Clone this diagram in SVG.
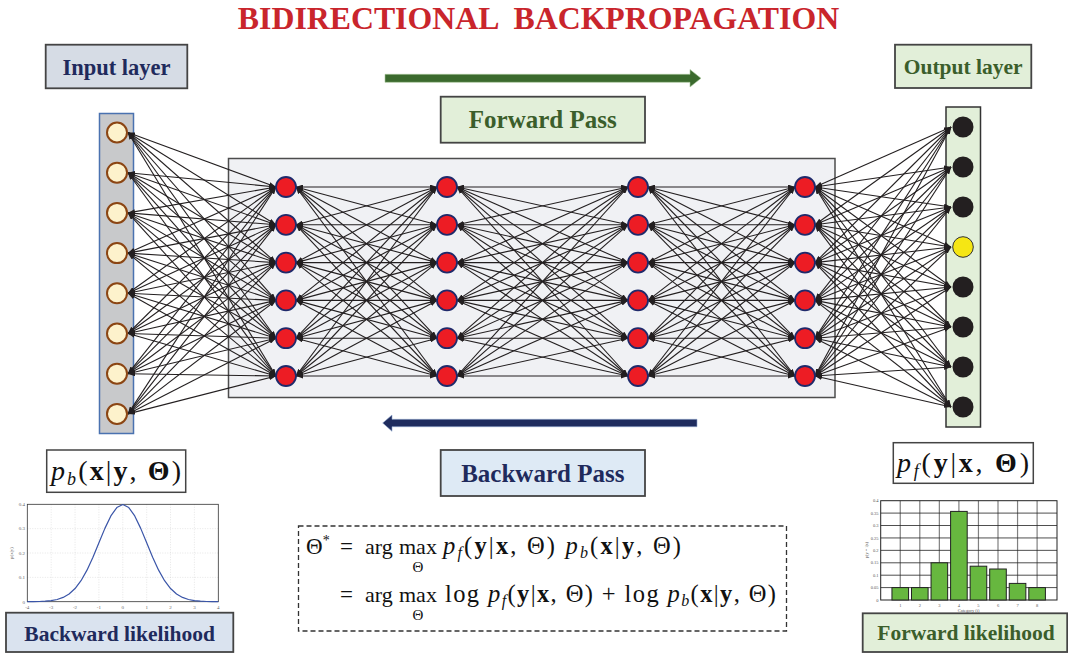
<svg xmlns="http://www.w3.org/2000/svg" width="1068" height="654" viewBox="0 0 1068 654">
<style>
text{font-family:"Liberation Serif","Times New Roman",serif}
.lbl{font-weight:bold;text-anchor:middle}
.navy{fill:#1f2a5c}
.green{fill:#3b5e2b}
.box{stroke:#444;stroke-width:1.8}
.in{fill:#fdf2cc;stroke:#8b4513;stroke-width:2}
.hid{fill:#ed1c24;stroke:#1f2a6b;stroke-width:1.8}
.out{fill:#231f20}
.tick{font-size:5px;fill:#666}
.htick{font-size:4.5px;fill:#555}
.m{font-size:22px;fill:#111}
.b{font-weight:bold}
.i{font-style:italic}
</style>
<defs>
<marker id="ah" markerUnits="userSpaceOnUse" markerWidth="7" markerHeight="5" refX="7" refY="2.5" orient="auto-start-reverse"><path d="M0,0 L7,2.5 L0,5 z" fill="#231f20"/></marker>
</defs>
<rect width="1068" height="654" fill="#fff"/>
<text x="538.5" y="29" class="lbl" font-size="31.8" fill="#c9252c" style="white-space:pre">BIDIRECTIONAL  BACKPROPAGATION</text>

<g id="input-label"><rect x="45.7" y="44.7" width="141.6" height="43.6" fill="#d6dce5" class="box"/><text x="116.5" y="75" class="lbl navy" font-size="22.5">Input layer</text></g>
<g id="output-label"><rect x="895" y="44.7" width="136.3" height="43.3" fill="#e2efd9" class="box"/><text x="963.2" y="74" class="lbl green" font-size="21.5">Output layer</text></g>

<g id="forward-pass">
<polygon points="385,74.3 690,74.3 690,69.5 701,78.3 690,87 690,82.3 385,82.3" fill="#3b6a2e" stroke="#a9c79a" stroke-width="0.6"/>
<rect x="440.7" y="96.7" width="204.3" height="46" fill="#e2efd9" class="box"/><text x="542.8" y="128.3" class="lbl green" font-size="25">Forward Pass</text>
</g>
<g id="backward-pass">
<polygon points="697,419.3 392,419.3 392,415 382.7,423 392,431.3 392,426.7 697,426.7" fill="#1f2c5e" stroke="#8fa6cc" stroke-width="0.6"/>
<rect x="440.7" y="450" width="204.3" height="46" fill="#deeaf5" class="box"/><text x="542.8" y="481.7" class="lbl navy" font-size="25">Backward Pass</text>
</g>

<g id="hidden-box"><rect x="228.5" y="158.5" width="606.5" height="239" fill="#f0f1f4" stroke="#4d4d4d" stroke-width="1.5"/></g>
<g id="input-column"><rect x="99.5" y="113.5" width="34" height="320" fill="#c8c9cb" stroke="#4a72b0" stroke-width="1.5"/></g>
<g id="output-column"><rect x="946" y="107" width="34.5" height="320" fill="#e2efd9" stroke="#333" stroke-width="1.5"/></g>

<g id="connectors" fill="none" stroke="#231f20" stroke-width="1.1" marker-start="url(#ah)" marker-end="url(#ah)">
<path d="M128 132.5L276 187"/><path d="M128 132.5L276 224.8"/><path d="M128 132.5L276 262.6"/><path d="M128 132.5L276 300.4"/><path d="M128 132.5L276 338.2"/><path d="M128 132.5L276 376"/>
<path d="M128 172.7L276 187"/><path d="M128 172.7L276 224.8"/><path d="M128 172.7L276 262.6"/><path d="M128 172.7L276 300.4"/><path d="M128 172.7L276 338.2"/><path d="M128 172.7L276 376"/>
<path d="M128 212.9L276 187"/><path d="M128 212.9L276 224.8"/><path d="M128 212.9L276 262.6"/><path d="M128 212.9L276 300.4"/><path d="M128 212.9L276 338.2"/><path d="M128 212.9L276 376"/>
<path d="M128 253.1L276 187"/><path d="M128 253.1L276 224.8"/><path d="M128 253.1L276 262.6"/><path d="M128 253.1L276 300.4"/><path d="M128 253.1L276 338.2"/><path d="M128 253.1L276 376"/>
<path d="M128 293.3L276 187"/><path d="M128 293.3L276 224.8"/><path d="M128 293.3L276 262.6"/><path d="M128 293.3L276 300.4"/><path d="M128 293.3L276 338.2"/><path d="M128 293.3L276 376"/>
<path d="M128 333.5L276 187"/><path d="M128 333.5L276 224.8"/><path d="M128 333.5L276 262.6"/><path d="M128 333.5L276 300.4"/><path d="M128 333.5L276 338.2"/><path d="M128 333.5L276 376"/>
<path d="M128 373.7L276 187"/><path d="M128 373.7L276 224.8"/><path d="M128 373.7L276 262.6"/><path d="M128 373.7L276 300.4"/><path d="M128 373.7L276 338.2"/><path d="M128 373.7L276 376"/>
<path d="M128 413.9L276 187"/><path d="M128 413.9L276 224.8"/><path d="M128 413.9L276 262.6"/><path d="M128 413.9L276 300.4"/><path d="M128 413.9L276 338.2"/><path d="M128 413.9L276 376"/>

<path d="M296 187L437 187"/><path d="M296 187L437 224.8"/><path d="M296 187L437 262.6"/><path d="M296 187L437 300.4"/><path d="M296 187L437 338.2"/><path d="M296 187L437 376"/>
<path d="M296 224.8L437 187"/><path d="M296 224.8L437 224.8"/><path d="M296 224.8L437 262.6"/><path d="M296 224.8L437 300.4"/><path d="M296 224.8L437 338.2"/><path d="M296 224.8L437 376"/>
<path d="M296 262.6L437 187"/><path d="M296 262.6L437 224.8"/><path d="M296 262.6L437 262.6"/><path d="M296 262.6L437 300.4"/><path d="M296 262.6L437 338.2"/><path d="M296 262.6L437 376"/>
<path d="M296 300.4L437 187"/><path d="M296 300.4L437 224.8"/><path d="M296 300.4L437 262.6"/><path d="M296 300.4L437 300.4"/><path d="M296 300.4L437 338.2"/><path d="M296 300.4L437 376"/>
<path d="M296 338.2L437 187"/><path d="M296 338.2L437 224.8"/><path d="M296 338.2L437 262.6"/><path d="M296 338.2L437 300.4"/><path d="M296 338.2L437 338.2"/><path d="M296 338.2L437 376"/>
<path d="M296 376L437 187"/><path d="M296 376L437 224.8"/><path d="M296 376L437 262.6"/><path d="M296 376L437 300.4"/><path d="M296 376L437 338.2"/><path d="M296 376L437 376"/>

<path d="M457 187L628 187"/><path d="M457 187L628 224.8"/><path d="M457 187L628 262.6"/><path d="M457 187L628 300.4"/><path d="M457 187L628 338.2"/><path d="M457 187L628 376"/>
<path d="M457 224.8L628 187"/><path d="M457 224.8L628 224.8"/><path d="M457 224.8L628 262.6"/><path d="M457 224.8L628 300.4"/><path d="M457 224.8L628 338.2"/><path d="M457 224.8L628 376"/>
<path d="M457 262.6L628 187"/><path d="M457 262.6L628 224.8"/><path d="M457 262.6L628 262.6"/><path d="M457 262.6L628 300.4"/><path d="M457 262.6L628 338.2"/><path d="M457 262.6L628 376"/>
<path d="M457 300.4L628 187"/><path d="M457 300.4L628 224.8"/><path d="M457 300.4L628 262.6"/><path d="M457 300.4L628 300.4"/><path d="M457 300.4L628 338.2"/><path d="M457 300.4L628 376"/>
<path d="M457 338.2L628 187"/><path d="M457 338.2L628 224.8"/><path d="M457 338.2L628 262.6"/><path d="M457 338.2L628 300.4"/><path d="M457 338.2L628 338.2"/><path d="M457 338.2L628 376"/>
<path d="M457 376L628 187"/><path d="M457 376L628 224.8"/><path d="M457 376L628 262.6"/><path d="M457 376L628 300.4"/><path d="M457 376L628 338.2"/><path d="M457 376L628 376"/>

<path d="M648 187L795 187"/><path d="M648 187L795 224.8"/><path d="M648 187L795 262.6"/><path d="M648 187L795 300.4"/><path d="M648 187L795 338.2"/><path d="M648 187L795 376"/>
<path d="M648 224.8L795 187"/><path d="M648 224.8L795 224.8"/><path d="M648 224.8L795 262.6"/><path d="M648 224.8L795 300.4"/><path d="M648 224.8L795 338.2"/><path d="M648 224.8L795 376"/>
<path d="M648 262.6L795 187"/><path d="M648 262.6L795 224.8"/><path d="M648 262.6L795 262.6"/><path d="M648 262.6L795 300.4"/><path d="M648 262.6L795 338.2"/><path d="M648 262.6L795 376"/>
<path d="M648 300.4L795 187"/><path d="M648 300.4L795 224.8"/><path d="M648 300.4L795 262.6"/><path d="M648 300.4L795 300.4"/><path d="M648 300.4L795 338.2"/><path d="M648 300.4L795 376"/>
<path d="M648 338.2L795 187"/><path d="M648 338.2L795 224.8"/><path d="M648 338.2L795 262.6"/><path d="M648 338.2L795 300.4"/><path d="M648 338.2L795 338.2"/><path d="M648 338.2L795 376"/>
<path d="M648 376L795 187"/><path d="M648 376L795 224.8"/><path d="M648 376L795 262.6"/><path d="M648 376L795 300.4"/><path d="M648 376L795 338.2"/><path d="M648 376L795 376"/>

<path d="M815 187L951 127"/><path d="M815 187L951 167"/><path d="M815 187L951 207"/><path d="M815 187L951 247"/><path d="M815 187L951 287"/><path d="M815 187L951 327"/><path d="M815 187L951 367"/><path d="M815 187L951 407"/>
<path d="M815 224.8L951 127"/><path d="M815 224.8L951 167"/><path d="M815 224.8L951 207"/><path d="M815 224.8L951 247"/><path d="M815 224.8L951 287"/><path d="M815 224.8L951 327"/><path d="M815 224.8L951 367"/><path d="M815 224.8L951 407"/>
<path d="M815 262.6L951 127"/><path d="M815 262.6L951 167"/><path d="M815 262.6L951 207"/><path d="M815 262.6L951 247"/><path d="M815 262.6L951 287"/><path d="M815 262.6L951 327"/><path d="M815 262.6L951 367"/><path d="M815 262.6L951 407"/>
<path d="M815 300.4L951 127"/><path d="M815 300.4L951 167"/><path d="M815 300.4L951 207"/><path d="M815 300.4L951 247"/><path d="M815 300.4L951 287"/><path d="M815 300.4L951 327"/><path d="M815 300.4L951 367"/><path d="M815 300.4L951 407"/>
<path d="M815 338.2L951 127"/><path d="M815 338.2L951 167"/><path d="M815 338.2L951 207"/><path d="M815 338.2L951 247"/><path d="M815 338.2L951 287"/><path d="M815 338.2L951 327"/><path d="M815 338.2L951 367"/><path d="M815 338.2L951 407"/>
<path d="M815 376L951 127"/><path d="M815 376L951 167"/><path d="M815 376L951 207"/><path d="M815 376L951 247"/><path d="M815 376L951 287"/><path d="M815 376L951 327"/><path d="M815 376L951 367"/><path d="M815 376L951 407"/>
</g>

<g id="input-nodes">
<circle class="in" cx="117" cy="132.5" r="10"/><circle class="in" cx="117" cy="172.7" r="10"/><circle class="in" cx="117" cy="212.9" r="10"/><circle class="in" cx="117" cy="253.1" r="10"/>
<circle class="in" cx="117" cy="293.3" r="10"/><circle class="in" cx="117" cy="333.5" r="10"/><circle class="in" cx="117" cy="373.7" r="10"/><circle class="in" cx="117" cy="413.9" r="10"/>
</g>
<g id="hidden-layer-1"><circle class="hid" cx="286" cy="187" r="10"/><circle class="hid" cx="286" cy="224.8" r="10"/><circle class="hid" cx="286" cy="262.6" r="10"/><circle class="hid" cx="286" cy="300.4" r="10"/><circle class="hid" cx="286" cy="338.2" r="10"/><circle class="hid" cx="286" cy="376" r="10"/></g>
<g id="hidden-layer-2"><circle class="hid" cx="447" cy="187" r="10"/><circle class="hid" cx="447" cy="224.8" r="10"/><circle class="hid" cx="447" cy="262.6" r="10"/><circle class="hid" cx="447" cy="300.4" r="10"/><circle class="hid" cx="447" cy="338.2" r="10"/><circle class="hid" cx="447" cy="376" r="10"/></g>
<g id="hidden-layer-3"><circle class="hid" cx="638" cy="187" r="10"/><circle class="hid" cx="638" cy="224.8" r="10"/><circle class="hid" cx="638" cy="262.6" r="10"/><circle class="hid" cx="638" cy="300.4" r="10"/><circle class="hid" cx="638" cy="338.2" r="10"/><circle class="hid" cx="638" cy="376" r="10"/></g>
<g id="hidden-layer-4"><circle class="hid" cx="805" cy="187" r="10"/><circle class="hid" cx="805" cy="224.8" r="10"/><circle class="hid" cx="805" cy="262.6" r="10"/><circle class="hid" cx="805" cy="300.4" r="10"/><circle class="hid" cx="805" cy="338.2" r="10"/><circle class="hid" cx="805" cy="376" r="10"/></g>
<g id="output-nodes">
<circle class="out" cx="963" cy="127" r="10.5"/><circle class="out" cx="963" cy="167" r="10.5"/><circle class="out" cx="963" cy="207" r="10.5"/>
<circle cx="963" cy="247" r="10.3" fill="#f5e614" stroke="#333" stroke-width="1"/>
<circle class="out" cx="963" cy="287" r="10.5"/><circle class="out" cx="963" cy="327" r="10.5"/><circle class="out" cx="963" cy="367" r="10.5"/><circle class="out" cx="963" cy="407" r="10.5"/>
</g>

<g id="pb-label"><rect x="46.7" y="450" width="139" height="42.3" fill="#fff" stroke="#444" stroke-width="1.5"/>
<text x="51" y="480" font-size="28" fill="#111" textLength="130" lengthAdjust="spacing"><tspan class="i">p</tspan><tspan class="i" font-size="18" dy="5">b</tspan><tspan dy="-5">(</tspan><tspan class="b">x</tspan>|<tspan class="b">y</tspan>, <tspan class="b">Θ</tspan>)</text></g>
<g id="pf-label"><rect x="893.3" y="442.7" width="140" height="40.6" fill="#fff" stroke="#444" stroke-width="1.5"/>
<text x="897" y="472" font-size="28" fill="#111" textLength="132" lengthAdjust="spacing"><tspan class="i">p</tspan><tspan class="i" font-size="18" dy="5">f</tspan><tspan dy="-5">(</tspan><tspan class="b">y</tspan>|<tspan class="b">x</tspan>, <tspan class="b">Θ</tspan>)</text></g>

<g id="gaussian-plot">
<rect x="27.3" y="504.3" width="191" height="97.4" fill="#fff"/>
<g stroke="#ccc" stroke-width="0.5" stroke-dasharray="1,1.5">
<path d="M51.2 504.3V601.7M75.05 504.3V601.7M98.9 504.3V601.7M122.8 504.3V601.7M146.7 504.3V601.7M170.5 504.3V601.7M194.4 504.3V601.7M27.3 577.35H218.3M27.3 553H218.3M27.3 528.65H218.3"/>
</g>
<rect x="27.3" y="504.3" width="191" height="97.4" fill="none" stroke="#333" stroke-width="0.8"/>
<polyline fill="none" stroke="#3a55a8" stroke-width="1.2" stroke-linejoin="round" points="27.3,601.67 33.27,601.61 39.24,601.49 45.21,601.21 51.17,600.62 57.14,599.49 63.11,597.43 69.08,593.97 75.05,588.55 81.02,580.69 86.99,570.16 92.96,557.23 98.93,542.78 104.89,528.37 110.86,515.97 116.83,507.55 122.8,504.56 128.77,507.55 134.74,515.97 140.71,528.37 146.68,542.78 152.64,557.23 158.61,570.16 164.58,580.69 170.55,588.55 176.52,593.97 182.49,597.43 188.46,599.49 194.43,600.62 200.39,601.21 206.36,601.49 212.33,601.61 218.3,601.67"/>
<g class="tick" text-anchor="middle">
<text x="27.3" y="609">-4</text><text x="51.2" y="609">-3</text><text x="75.05" y="609">-2</text><text x="98.9" y="609">-1</text><text x="122.8" y="609">0</text><text x="146.7" y="609">1</text><text x="170.5" y="609">2</text><text x="194.4" y="609">3</text><text x="218.3" y="609">4</text>
</g>
<g class="tick" text-anchor="end">
<text x="25" y="603.5">0</text><text x="25" y="579">0.1</text><text x="25" y="554.7">0.2</text><text x="25" y="530.3">0.3</text><text x="25" y="506">0.4</text>
</g>
<text class="tick" transform="translate(13,553) rotate(-90)" text-anchor="middle">p(x|y)</text>
</g>

<g id="histogram">
<rect x="880.7" y="500.7" width="176.3" height="99.3" fill="#fff"/>
<path d="M900.25 500.7V600M919.8 500.7V600M939.35 500.7V600M958.9 500.7V600M978.45 500.7V600M998 500.7V600M1017.55 500.7V600M1037.1 500.7V600" stroke="#808080" stroke-width="1.2"/>
<path d="M880.7 587.6H1057M880.7 575.2H1057M880.7 562.8H1057M880.7 550.35H1057M880.7 537.95H1057M880.7 525.5H1057M880.7 513.1H1057" stroke="#222" stroke-width="0.8"/>
<rect x="880.7" y="500.7" width="176.3" height="99.3" fill="none" stroke="#222" stroke-width="1"/>
<g fill="#67b73f" stroke="#222" stroke-width="1">
<rect x="891.95" y="587.6" width="16.6" height="12.4"/><rect x="911.5" y="587.6" width="16.6" height="12.4"/><rect x="931.05" y="562.8" width="16.6" height="37.2"/><rect x="950.6" y="511.4" width="16.6" height="88.6"/>
<rect x="970.15" y="566.2" width="16.6" height="33.8"/><rect x="989.7" y="569" width="16.6" height="31"/><rect x="1009.25" y="583.4" width="16.6" height="16.6"/><rect x="1028.8" y="587.6" width="16.6" height="12.4"/>
</g>
<g class="htick" text-anchor="middle">
<text x="900.25" y="606.5">1</text><text x="919.8" y="606.5">2</text><text x="939.35" y="606.5">3</text><text x="958.9" y="606.5">4</text><text x="978.45" y="606.5">5</text><text x="998" y="606.5">6</text><text x="1017.55" y="606.5">7</text><text x="1037.1" y="606.5">8</text>
<text x="968.6" y="612.3">Category (i)</text>
</g>
<g class="htick" text-anchor="end">
<text x="878.5" y="601.5">0</text><text x="878.5" y="589.1">0.05</text><text x="878.5" y="576.7">0.1</text><text x="878.5" y="564.3">0.15</text><text x="878.5" y="551.9">0.2</text><text x="878.5" y="539.5">0.25</text><text x="878.5" y="527">0.3</text><text x="878.5" y="514.6">0.35</text><text x="878.5" y="502.2">0.4</text>
</g>
<text class="htick" transform="translate(868,550) rotate(-90)" text-anchor="middle">p(y = i|x)</text>
</g>

<g id="backward-likelihood"><rect x="6" y="612.7" width="227.3" height="39.3" fill="#dae3ef" class="box"/><text x="119.6" y="641" class="lbl navy" font-size="21.5">Backward likelihood</text></g>
<g id="forward-likelihood"><rect x="862.7" y="613.3" width="204.5" height="38.7" fill="#e2efd9" class="box"/><text x="966" y="640" class="lbl green" font-size="21.5">Forward likelihood</text></g>

<g id="objective">
<rect x="298.5" y="526" width="488" height="105" fill="#fff" stroke="#333" stroke-width="1.3" stroke-dasharray="5,3"/>
<text class="m" x="306" y="554" style="font-size:23px">Θ<tspan font-size="14" dy="-9">*</tspan></text>
<text class="m" x="340" y="554" style="font-size:23px">=</text>
<text class="m" x="365" y="554">arg</text>
<text class="m" x="399" y="554">max</text>
<text class="m" x="418" y="572" text-anchor="middle" style="font-size:15px">Θ</text>
<text class="m" x="443" y="554" style="font-size:24.5px" textLength="238" lengthAdjust="spacing"><tspan class="i">p</tspan><tspan class="i" font-size="16" dy="4">f</tspan><tspan dy="-4">(</tspan><tspan class="b">y</tspan>|<tspan class="b">x</tspan>, Θ) <tspan class="i">p</tspan><tspan class="i" font-size="16" dy="4">b</tspan><tspan dy="-4">(</tspan><tspan class="b">x</tspan>|<tspan class="b">y</tspan>, Θ)</text>
<text class="m" x="340" y="602" style="font-size:23px">=</text>
<text class="m" x="365" y="602">arg</text>
<text class="m" x="399" y="602">max</text>
<text class="m" x="418" y="620" text-anchor="middle" style="font-size:15px">Θ</text>
<text class="m" x="445" y="602" style="font-size:24.5px" textLength="331" lengthAdjust="spacing">log <tspan class="i">p</tspan><tspan class="i" font-size="16" dy="4">f</tspan><tspan dy="-4">(</tspan><tspan class="b">y</tspan>|<tspan class="b">x</tspan>, Θ) + log <tspan class="i">p</tspan><tspan class="i" font-size="16" dy="4">b</tspan><tspan dy="-4">(</tspan><tspan class="b">x</tspan>|<tspan class="b">y</tspan>, Θ)</text>
</g>
</svg>
